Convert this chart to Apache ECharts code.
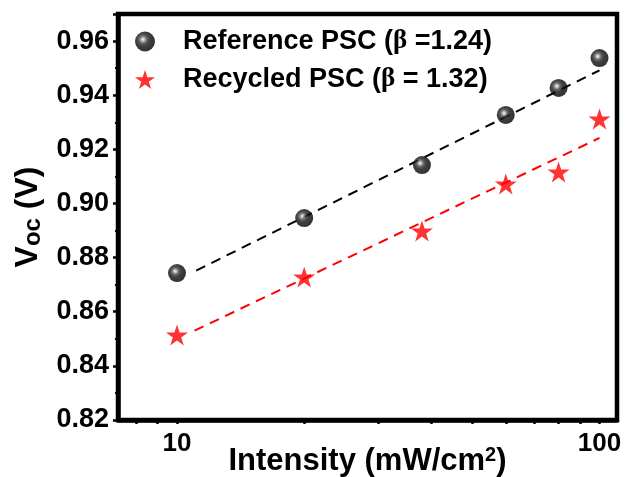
<!DOCTYPE html>
<html>
<head>
<meta charset="utf-8">
<script src="https://cdn.jsdelivr.net/npm/echarts@6/dist/echarts.min.js"></script>
<style>
  html, body { margin: 0; padding: 0; background: #fff; }
  #chart { width: 625px; height: 477px; }
</style>
</head>
<body>
<div id="chart"></div>
<script>
// Light intensity (mW/cm2)
const intensity = [10, 20, 38, 60, 80, 100];
// Open-circuit voltage (V)
const referenceVoc = [0.8743, 0.8946, 0.9142, 0.9327, 0.9427, 0.9537];
const recycledVoc = [0.8514, 0.8728, 0.8898, 0.9072, 0.9116, 0.9312];
// Linear fits of Voc vs ln(I), end points
const referenceFitX = [11.1, 100];
const referenceFitY = [0.8752, 0.9492];
const recycledFitX = [11.0, 100];
const recycledFitY = [0.8530, 0.9242];
// Tick marks on the intensity axis
const xTickMarks = [8, 9, 10, 20, 30, 40, 50, 60, 70, 80, 90, 100];

const FONT = "'Liberation Sans', Arial, sans-serif";
const STAR = 'path://M50 0 L61.23 34.55 L97.55 34.55 L68.17 55.9 L79.39 90.45 L50 69.1 L20.61 90.45 L31.83 55.9 L2.45 34.55 L38.77 34.55 Z';

const sphere = {
  type: 'radial', x: 0.4, y: 0.4, r: 0.6,
  colorStops: [
    { offset: 0, color: '#f8f8f8' },
    { offset: 0.12, color: '#b8b8b8' },
    { offset: 0.32, color: '#404040' },
    { offset: 0.55, color: '#101010' },
    { offset: 1, color: '#000' }
  ]
};

const pairs = (xs, ys) => xs.map((x, i) => [x, ys[i]]);

const chart = echarts.init(document.getElementById('chart'), null, { renderer: 'canvas' });
chart.setOption({
  animation: false,
  backgroundColor: '#fff',
  grid: {
    left: 118, right: 8, top: 14, bottom: 57,
    outerBoundsMode: 'none', containLabel: false,
    show: true, borderColor: '#000', borderWidth: 4.5, backgroundColor: 'transparent'
  },
  legend: {
    orient: 'vertical',
    left: 135, top: 28, padding: 0,
    itemWidth: 20, itemHeight: 20, itemGap: 11,
    data: ['Reference PSC', 'Recycled PSC'],
    formatter: function (name) {
      return name === 'Reference PSC'
        ? '{t|Reference PSC (}{b|β}{t| =1.24)}'
        : '{t|Recycled PSC (}{b|β}{t| = 1.32)}';
    },
    textStyle: {
      padding: [0, 0, 0, 23],
      rich: {
        t: { fontFamily: FONT, fontWeight: 'bold', fontSize: 27, color: '#000' },
        b: { fontFamily: "'Liberation Serif', 'DejaVu Serif', serif", fontWeight: 'bold', fontSize: 27, color: '#000' }
      }
    }
  },
  xAxis: {
    type: 'log', logBase: 10, min: 7.25, max: 110,
    name: '{t|Intensity (mW/cm}{s|2}{t|)}',
    nameLocation: 'middle', nameGap: 25, nameMoveOverlap: false,
    nameTextStyle: {
      rich: {
        t: { fontFamily: FONT, fontWeight: 'bold', fontSize: 31, color: '#000', lineHeight: 32 },
        s: { fontFamily: FONT, fontWeight: 'bold', fontSize: 20, color: '#000', lineHeight: 16, verticalAlign: 'top' }
      }
    },
    axisLine: { lineStyle: { color: '#000', width: 4.5 } },
    axisTick: { show: true, length: 4, inside: false, customValues: xTickMarks, lineStyle: { color: '#000', width: 2.5 } },
    minorTick: { show: false },
    splitLine: { show: false },
    axisLabel: {
      showMinLabel: false, showMaxLabel: false,
      margin: 11,
      fontFamily: FONT, fontWeight: 'bold', fontSize: 26, color: '#000'
    }
  },
  yAxis: {
    type: 'value', min: 0.82, max: 0.97, interval: 0.02,
    name: '{v|V}{s|oc}{v| (V)}',
    nameLocation: 'middle', nameGap: 73, nameRotate: 90, nameMoveOverlap: false,
    nameTextStyle: {
      rich: {
        v: { fontFamily: FONT, fontWeight: 'bold', fontSize: 32, color: '#000', lineHeight: 34 },
        s: { fontFamily: FONT, fontWeight: 'bold', fontSize: 24, color: '#000', lineHeight: 14, verticalAlign: 'bottom' }
      }
    },
    axisLine: { show: true, lineStyle: { color: '#000', width: 4.5 } },
    axisTick: { show: true, length: 5, inside: false, lineStyle: { color: '#000', width: 2.5 } },
    minorTick: { show: true, splitNumber: 2, length: 3, lineStyle: { color: '#000', width: 2 } },
    splitLine: { show: false },
    axisLabel: {
      showMaxLabel: false,
      margin: 9,
      formatter: v => v.toFixed(2),
      fontFamily: FONT, fontWeight: 'bold', fontSize: 27, color: '#000'
    }
  },
  series: [
    {
      name: 'Reference fit', type: 'line', data: pairs(referenceFitX, referenceFitY),
      symbol: 'none', silent: true, z: 2,
      lineStyle: { color: '#000', width: 2, type: [10, 7] }
    },
    {
      name: 'Recycled fit', type: 'line', data: pairs(recycledFitX, recycledFitY),
      symbol: 'none', silent: true, z: 2,
      lineStyle: { color: '#ff0000', width: 2, type: [10, 7] }
    },
    {
      name: 'Reference PSC', type: 'scatter', data: pairs(intensity, referenceVoc),
      symbol: 'circle', symbolSize: 18, z: 3,
      itemStyle: { color: sphere }
    },
    {
      name: 'Recycled PSC', type: 'scatter', data: pairs(intensity, recycledVoc),
      symbol: STAR, symbolSize: 22, symbolKeepAspect: true, z: 3,
      itemStyle: { color: '#ff0000' }
    }
  ]
});
</script>
</body>
</html>
